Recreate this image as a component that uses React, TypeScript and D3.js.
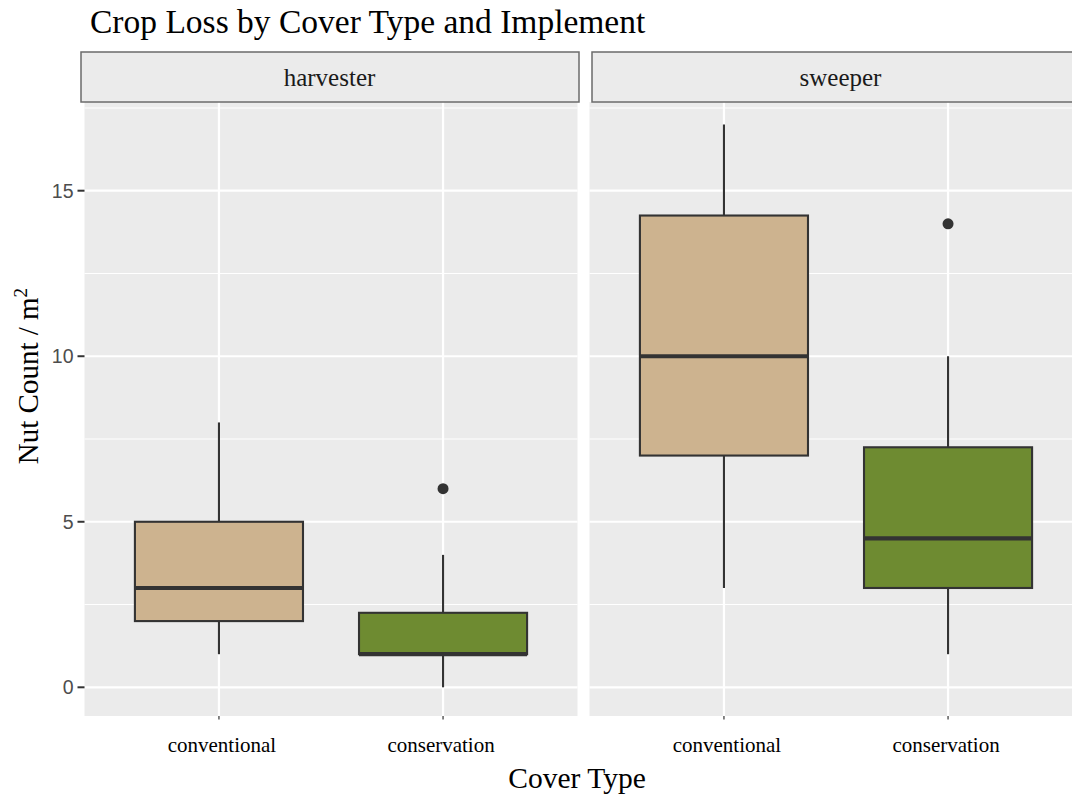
import React from "react";
import * as d3 from "d3";

const implementsList = ["harvester", "sweeper"];
const coverTypes = ["conventional", "conservation"];
// per implement, per cover type: [lowerWhisker, q1, median, q3, upperWhisker]
const harvesterStats = [
  [1, 2, 3, 5, 8],
  [0, 1, 1, 2.25, 4],
];
const sweeperStats = [
  [3, 7, 10, 14.25, 17],
  [1, 3, 4.5, 7.25, 10],
];
const harvesterOutliers = [[], [6]];
const sweeperOutliers = [[], [14]];
const yTicks = [0, 5, 10, 15];
const yMinor = [2.5, 7.5, 12.5, 17.5];
const fills = ["#CDB38F", "#6E8B31"];

const W = 1072;
const H = 797;
const panelTop = 102;
const panelBottom = 716;
const panelW = 493;
const panelLefts = [84.5, 589.5];
const stripX = [[81, 579], [592, 1090]];

export default function App() {
  const y = d3.scaleLinear().domain([0, 15]).range([687.3, 190.7]);
  const stats = [harvesterStats, sweeperStats];
  const outliers = [harvesterOutliers, sweeperOutliers];
  const serif = "'Liberation Serif', 'Times New Roman', serif";
  const sans = "'Liberation Sans', Arial, sans-serif";

  return (
    <svg width={W} height={H} style={{ position: "absolute", left: 0, top: 0, background: "#fff" }}>
      <text x={90} y={33} fontFamily={serif} fontSize={33.5} fill="#000">
        Crop Loss by Cover Type and Implement
      </text>
      {implementsList.map((imp, pi) => {
        const left = panelLefts[pi];
        const xs = d3.scaleLinear().domain([0.4, 2.6]).range([left, left + panelW]);
        const unit = xs(2) - xs(1);
        const boxW = unit * 0.75;
        const [sx0, sx1] = stripX[pi];
        return (
          <g key={imp}>
            <rect x={left} y={panelTop} width={panelW} height={panelBottom - panelTop} fill="#EBEBEB" />
            {yMinor.map((t) => (
              <line key={"m" + t} x1={left} x2={left + panelW} y1={y(t)} y2={y(t)} stroke="#fff" strokeWidth={1.1} />
            ))}
            {yTicks.map((t) => (
              <line key={"g" + t} x1={left} x2={left + panelW} y1={y(t)} y2={y(t)} stroke="#fff" strokeWidth={2.2} />
            ))}
            {coverTypes.map((c, ci) => (
              <line key={"v" + c} x1={xs(ci + 1)} x2={xs(ci + 1)} y1={panelTop} y2={panelBottom} stroke="#fff" strokeWidth={2.2} />
            ))}
            {coverTypes.map((c, ci) => {
              const [lo, q1, med, q3, hi] = stats[pi][ci];
              const cx = xs(ci + 1);
              return (
                <g key={"b" + c}>
                  <line x1={cx} x2={cx} y1={y(q3)} y2={y(hi)} stroke="#333" strokeWidth={2.1} />
                  <line x1={cx} x2={cx} y1={y(q1)} y2={y(lo)} stroke="#333" strokeWidth={2.1} />
                  <rect x={cx - boxW / 2} y={y(q3)} width={boxW} height={y(q1) - y(q3)} fill={fills[ci]} stroke="#333" strokeWidth={2.1} />
                  <line x1={cx - boxW / 2} x2={cx + boxW / 2} y1={y(med)} y2={y(med)} stroke="#333" strokeWidth={4.2} />
                  {outliers[pi][ci].map((o, oi) => (
                    <circle key={oi} cx={cx} cy={y(o)} r={5.5} fill="#333" />
                  ))}
                </g>
              );
            })}
            <rect x={sx0} y={52} width={sx1 - sx0} height={50} fill="#EBEBEB" stroke="#6b6b6b" strokeWidth={1.5} />
            <text x={(sx0 + sx1) / 2 - 0.5} y={86} textAnchor="middle" fontFamily={serif} fontSize={25} fill="#1a1a1a">
              {imp}
            </text>
            {coverTypes.map((c, ci) => (
              <g key={"t" + c}>
                <line x1={xs(ci + 1)} x2={xs(ci + 1)} y1={panelBottom} y2={panelBottom + 3.5} stroke="#333" strokeWidth={1.2} />
                <text x={xs(ci + 1) + (ci === 0 ? 3 : -2)} y={752} textAnchor="middle" fontFamily={serif} fontSize={21} fill="#000">
                  {c}
                </text>
              </g>
            ))}
          </g>
        );
      })}
      {yTicks.map((t) => (
        <g key={"yt" + t}>
          <line x1={77.5} x2={84.5} y1={y(t)} y2={y(t)} stroke="#333" strokeWidth={2} />
          <text x={73.5} y={y(t)} dy="0.36em" textAnchor="end" fontFamily={sans} fontSize={19.5} fill="#4D4D4D">
            {t}
          </text>
        </g>
      ))}
      <text transform={`translate(38, 376) rotate(-90)`} textAnchor="middle" fontFamily={serif} fontSize={29} fill="#000">
        Nut Count / m<tspan dy={-11} fontSize={19}>2</tspan>
      </text>
      <text x={577} y={788} textAnchor="middle" fontFamily={serif} fontSize={29.5} fill="#000">
        Cover Type
      </text>
    </svg>
  );
}
